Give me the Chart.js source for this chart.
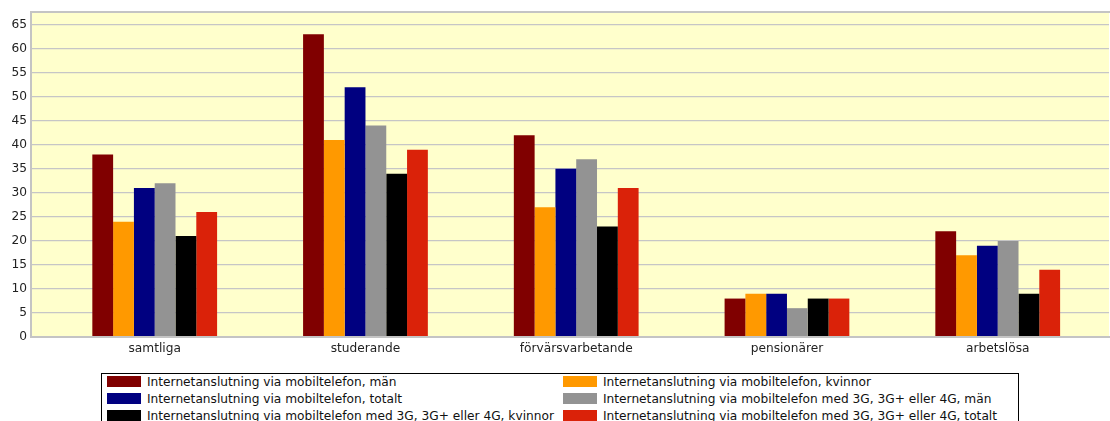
<!DOCTYPE html>
<html>
<head>
<meta charset="utf-8">
<script src="https://cdn.jsdelivr.net/npm/chart.js@4.4.1/dist/chart.umd.min.js"></script>
<style>
  html, body { margin: 0; padding: 0; background: #fff; }
  #wrap { position: relative; width: 1110px; height: 421px; overflow: hidden; }
  #chart { position: absolute; left: 0; top: 0; }
  #legend {
    position: absolute; left: 101px; top: 373px; width: 918px; height: 70px;
    box-sizing: border-box; border: 1px solid #000; background: #fff;
    font: 12.2px "DejaVu Sans", sans-serif; color: #111;
  }
  .item { position: absolute; height: 11px; display: flex; align-items: center; white-space: nowrap; }
  .sw { width: 34px; height: 11px; margin-right: 6px; flex: none; }
</style>
</head>
<body>
<div id="wrap">
  <canvas id="chart" width="1110" height="421"></canvas>
  <div id="legend"></div>
</div>
<script>
const categories = ["samtliga", "studerande", "förvärsvarbetande", "pensionärer", "arbetslösa"];

const seriesNames = [
  "Internetanslutning via mobiltelefon, män",
  "Internetanslutning via mobiltelefon, kvinnor",
  "Internetanslutning via mobiltelefon, totalt",
  "Internetanslutning via mobiltelefon med 3G, 3G+ eller 4G, män",
  "Internetanslutning via mobiltelefon med 3G, 3G+ eller 4G, kvinnor",
  "Internetanslutning via mobiltelefon med 3G, 3G+ eller 4G, totalt"
];

const mobilMan      = [38, 63, 42, 8, 22];
const mobilKvinnor  = [24, 41, 27, 9, 17];
const mobilTotalt   = [31, 52, 35, 9, 19];
const mobil3gMan    = [32, 44, 37, 6, 20];
const mobil3gKvinnor = [21, 34, 23, 8, 9];
const mobil3gTotalt = [26, 39, 31, 8, 14];

const yTicks = [0, 5, 10, 15, 20, 25, 30, 35, 40, 45, 50, 55, 60, 65];

const colors = ["#800000", "#FF9900", "#000080", "#939393", "#000000", "#DA2209"];
const allSeries = [mobilMan, mobilKvinnor, mobilTotalt, mobil3gMan, mobil3gKvinnor, mobil3gTotalt];

// yellow plot background and the thin frame round it
const plotBackground = {
  id: "plotBackground",
  beforeDraw(chart) {
    const { ctx, chartArea: a } = chart;
    ctx.save();
    ctx.fillStyle = "#FFFFCC";
    ctx.fillRect(a.left, a.top, a.right - a.left, a.bottom - a.top);
    ctx.restore();
  },
  afterDatasetsDraw(chart) {
    const { ctx, chartArea: a } = chart;
    ctx.save();
    ctx.strokeStyle = "#C4C4C4";
    ctx.lineWidth = 2;
    ctx.beginPath();
    ctx.moveTo(a.right + 1, a.top);
    ctx.lineTo(a.left, a.top);
    ctx.lineTo(a.left, a.bottom);
    ctx.lineTo(a.right + 1, a.bottom);
    ctx.stroke();
    ctx.restore();
  }
};

const chart = new Chart(document.getElementById("chart"), {
  type: "bar",
  data: {
    datasets: allSeries.map((vals, i) => ({
      label: seriesNames[i],
      data: vals.map((v, j) => ({ x: j, y: v })),
      backgroundColor: colors[i],
      borderWidth: 0
    }))
  },
  options: {
    responsive: false,
    animation: false,
    layout: { padding: { top: 12, left: 0, right: 1, bottom: 0 } },
    datasets: { bar: { categoryPercentage: 0.592, barPercentage: 1 } },
    plugins: { legend: { display: false }, tooltip: { enabled: false } },
    scales: {
      x: {
        type: "linear",
        offset: false,
        min: -0.587,
        max: 4.528,
        afterFit: s => { s.height = 84; },
        grid: { display: false, drawTicks: false },
        border: { display: false },
        ticks: {
          stepSize: 1,
          includeBounds: false,
          padding: 5,
          color: "#222",
          font: { family: "DejaVu Sans", size: 12.2 },
          callback: v => categories[v] ?? ""
        }
      },
      y: {
        min: 0,
        max: 67.65,
        afterFit: s => { s.width = 31; },
        afterBuildTicks: s => { s.ticks = yTicks.map(v => ({ value: v })); },
        grid: { color: "#C6C6C6", lineWidth: 1.3, drawTicks: false },
        border: { display: false },
        ticks: {
          padding: 4,
          color: "#222",
          font: { family: "DejaVu Sans", size: 12.2 }
        }
      }
    }
  },
  plugins: [plotBackground]
});

// two-column legend built from the chart's datasets
const legend = document.getElementById("legend");
chart.data.datasets.forEach((ds, i) => {
  const col = i % 2, row = Math.floor(i / 2);
  const item = document.createElement("div");
  item.className = "item";
  item.style.left = (col === 0 ? 5 : 461) + "px";
  item.style.top = (2 + row * 17) + "px";
  item.innerHTML = `<span class="sw" style="background:${ds.backgroundColor}"></span><span>${ds.label}</span>`;
  legend.appendChild(item);
});
</script>
</body>
</html>
